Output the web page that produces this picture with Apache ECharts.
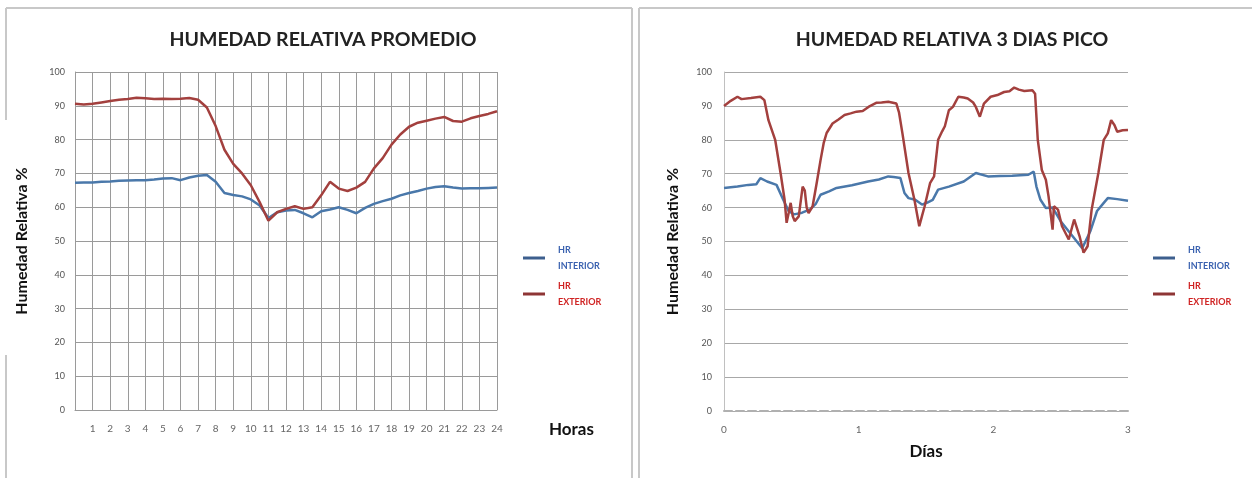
<!DOCTYPE html>
<html>
<head>
<meta charset="utf-8">
<script src="https://cdn.jsdelivr.net/npm/echarts@6/dist/echarts.min.js"></script>
<style>
  body { margin: 0; background: #fff; }
  #main { width: 1252px; height: 478px; }
</style>
</head>
<body>
<div id="main"></div>
<script type="text/javascript">
    // datos
    var horas = [0, 0.5, 1, 1.5, 2, 2.5, 3, 3.5, 4, 4.5, 5, 5.5, 6, 6.5, 7, 7.5, 8, 8.5, 9, 9.5, 10, 10.5, 11, 11.5, 12,
                 12.5, 13, 13.5, 14, 14.5, 15, 15.5, 16, 16.5, 17, 17.5, 18, 18.5, 19, 19.5, 20, 20.5, 21, 21.5, 22, 22.5, 23, 23.5, 24];
    var hrInteriorProm = [67.2, 67.3, 67.3, 67.5, 67.6, 67.8, 67.9, 68.0, 68.0, 68.2, 68.5, 68.6, 68.0, 68.8, 69.3, 69.5, 67.5, 64.2, 63.6, 63.2, 62.3, 60.5, 56.8, 58.5, 59.0,
                          59.2, 58.2, 57.0, 58.8, 59.3, 60.0, 59.2, 58.2, 59.8, 61.0, 61.8, 62.5, 63.5, 64.2, 64.8, 65.5, 66.0, 66.2, 65.8, 65.5, 65.6, 65.6, 65.7, 65.8];
    var hrExteriorProm = [90.6, 90.4, 90.6, 91.0, 91.4, 91.8, 92.0, 92.4, 92.2, 92.0, 92.1, 92.0, 92.1, 92.3, 91.8, 89.5, 84.0, 77.0, 72.8, 70.0, 66.5, 61.5, 56.0, 58.5, 59.5,
                          60.3, 59.5, 60.0, 63.5, 67.5, 65.5, 64.8, 65.8, 67.5, 71.5, 74.5, 78.5, 81.5, 83.8, 85.0, 85.6, 86.2, 86.7, 85.5, 85.3, 86.3, 87.0, 87.6, 88.4];

    var diasInt = [0, 0.1, 0.18, 0.24, 0.27, 0.32, 0.39, 0.44, 0.48, 0.52, 0.58, 0.64, 0.68, 0.717, 0.78, 0.836, 0.95, 1.07, 1.15, 1.22,
                   1.26, 1.31, 1.34, 1.37, 1.42, 1.47, 1.51, 1.55, 1.59, 1.67, 1.78, 1.87, 1.96, 2.05, 2.14, 2.26, 2.3, 2.32, 2.35, 2.39,
                   2.44, 2.5, 2.58, 2.66, 2.72, 2.77, 2.82, 2.85, 2.92, 3.0];
    var hrInteriorPico = [65.8, 66.2, 66.7, 66.9, 68.7, 67.7, 66.7, 62.3, 59.0, 58.0, 58.5, 59.5, 61.0, 63.8, 64.8, 65.8, 66.6, 67.7, 68.3, 69.2,
                          69.0, 68.7, 64.3, 62.8, 62.3, 60.9, 61.5, 62.3, 65.3, 66.2, 67.7, 70.2, 69.2, 69.3, 69.4, 69.7, 70.6, 66.2, 62.3, 59.9,
                          60.0, 56.0, 52.0, 48.0, 53.0, 59.0, 61.4, 62.8, 62.5, 62.0];
    var diasExt = [0, 0.05, 0.1, 0.13, 0.2, 0.27, 0.3, 0.33, 0.38, 0.42, 0.45, 0.465, 0.48, 0.495, 0.51, 0.525, 0.555, 0.584, 0.6, 0.614,
                   0.628, 0.645, 0.658, 0.688, 0.717, 0.74, 0.762, 0.806, 0.85, 0.895, 0.94, 0.984, 1.03, 1.073, 1.13, 1.17, 1.22, 1.28, 1.3, 1.325,
                   1.37, 1.414, 1.45, 1.47, 1.49, 1.53, 1.56, 1.59, 1.62, 1.64, 1.67, 1.7, 1.74, 1.78, 1.81, 1.85, 1.87, 1.9, 1.93, 1.98,
                   2.03, 2.08, 2.12, 2.155, 2.19, 2.23, 2.29, 2.31, 2.33, 2.36, 2.39, 2.41, 2.44, 2.45, 2.48, 2.51, 2.56, 2.6, 2.64, 2.67,
                   2.7, 2.73, 2.78, 2.82, 2.85, 2.875, 2.9, 2.92, 2.96, 3.0];
    var hrExteriorPico = [90.0, 91.5, 92.7, 92.0, 92.3, 92.7, 91.7, 85.8, 80.0, 70.2, 62.3, 55.5, 58.4, 61.4, 57.5, 56.0, 57.4, 66.2, 65.0, 60.0,
                          58.4, 59.5, 60.4, 67.2, 74.0, 79.0, 82.0, 84.8, 86.0, 87.3, 87.8, 88.3, 88.5, 89.7, 90.9, 91.0, 91.2, 90.7, 88.0, 81.9,
                          70.2, 62.3, 54.5, 57.5, 60.4, 67.2, 69.2, 80.0, 82.5, 84.0, 88.7, 89.7, 92.7, 92.5, 92.2, 91.0, 89.7, 86.8, 90.7, 92.7,
                          93.2, 94.1, 94.3, 95.4, 94.8, 94.4, 94.6, 93.6, 80.0, 71.1, 68.2, 63.3, 53.5, 60.4, 59.4, 54.5, 50.6, 56.5, 51.6, 46.7,
                          48.6, 59.4, 70.2, 80.0, 81.9, 85.8, 84.3, 82.4, 82.8, 82.9];

    var colorInt = '#4a78aa';
    var colorExt = '#a3403e';

    function pares(xs, ys) {
        var out = [];
        for (var i = 0; i < Math.min(xs.length, ys.length); i++) out.push([xs[i], ys[i]]);
        return out;
    }

    var myChart = echarts.init(document.getElementById('main'));

    var legendaTexto = { fontFamily: 'Lato', fontSize: 9, fontWeight: 'bold', lineHeight: 16, padding: [0, 0, 0, 8] };
    var tituloTexto = { fontFamily: 'Lato', fontSize: 19.5, fontWeight: 'bold', color: '#222' };

    option = {
        backgroundColor: '#fff',
        animation: false,
        title: [
            { text: 'HUMEDAD RELATIVA PROMEDIO', left: 318, top: 25, textAlign: 'center', textStyle: tituloTexto },
            { text: 'HUMEDAD RELATIVA 3 DIAS PICO', left: 947, top: 25, textAlign: 'center', textStyle: tituloTexto }
        ],
        legend: [
            { orient: 'vertical', left: 518, top: 237, itemWidth: 22, itemHeight: 3, itemGap: 4, icon: 'rect',
              data: [
                  { name: 'HR\nINTERIOR', itemStyle: { color: '#3d5f8e' }, textStyle: { color: '#3b62b0' } },
                  { name: 'HR\nEXTERIOR', itemStyle: { color: '#8e3535' }, textStyle: { color: '#d02424' } }
              ],
              textStyle: legendaTexto },
            { orient: 'vertical', left: 1148, top: 237, itemWidth: 22, itemHeight: 3, itemGap: 4, icon: 'rect',
              data: [
                  { name: 'HR\nINTERIOR\u200b', itemStyle: { color: '#3d5f8e' }, textStyle: { color: '#3b62b0' } },
                  { name: 'HR\nEXTERIOR\u200b', itemStyle: { color: '#8e3535' }, textStyle: { color: '#d02424' } }
              ],
              textStyle: legendaTexto }
        ],
        grid: [
            { left: 75, top: 72, width: 422, height: 338 },
            { left: 724, top: 72, width: 404, height: 339 }
        ],
        xAxis: [
            { gridIndex: 0, type: 'value', min: 0, max: 24, interval: 1,
              name: 'Horas', nameLocation: 'end', nameGap: 52,
              nameTextStyle: { fontFamily: 'Lato', fontSize: 17, fontWeight: 'bold', color: '#111', verticalAlign: 'top', padding: [11, 0, 0, 0] },
              axisLine: { lineStyle: { color: '#9a9a9a' } },
              axisTick: { show: false },
              axisLabel: { margin: 14, fontFamily: 'Lato', fontSize: 10, color: '#666',
                           formatter: function (v) { return v === 0 ? '' : v; } },
              splitLine: { show: true, lineStyle: { color: '#9a9a9a', width: 1 } } },
            { gridIndex: 1, type: 'value', min: 0, max: 3, interval: 1,
              name: 'Días', nameLocation: 'middle', nameGap: 32,
              nameTextStyle: { fontFamily: 'Lato', fontSize: 17, fontWeight: 'bold', color: '#111' },
              axisLine: { lineStyle: { color: '#b0b0b0', type: 'dashed', width: 2 } },
              axisTick: { show: false },
              axisLabel: { margin: 14, fontFamily: 'Lato', fontSize: 10, color: '#666' },
              splitLine: { show: false } }
        ],
        yAxis: [
            { gridIndex: 0, type: 'value', min: 0, max: 100, interval: 10,
              name: 'Humedad Relativa %', nameLocation: 'middle', nameGap: 45,
              nameTextStyle: { fontFamily: 'Lato', fontSize: 16, fontWeight: 'bold', color: '#111' },
              axisLine: { show: true, lineStyle: { color: '#9a9a9a' } },
              axisTick: { show: false },
              axisLabel: { margin: 10, fontFamily: 'Lato', fontSize: 9, color: '#555' },
              splitLine: { lineStyle: { color: '#9a9a9a', width: 1 } } },
            { gridIndex: 1, type: 'value', min: 0, max: 100, interval: 10,
              name: 'Humedad Relativa %', nameLocation: 'middle', nameGap: 43,
              nameTextStyle: { fontFamily: 'Lato', fontSize: 16, fontWeight: 'bold', color: '#111' },
              axisLine: { show: true, lineStyle: { color: '#c0c0c0' } },
              axisTick: { show: false },
              axisLabel: { margin: 12, fontFamily: 'Lato', fontSize: 9, color: '#555' },
              splitLine: { lineStyle: { color: '#a8a8a8', width: 1 } } }
        ],
        series: [
            { name: 'HR\nINTERIOR', type: 'line', xAxisIndex: 0, yAxisIndex: 0, showSymbol: false,
              lineStyle: { color: colorInt, width: 2.5 }, itemStyle: { color: colorInt },
              data: pares(horas, hrInteriorProm) },
            { name: 'HR\nEXTERIOR', type: 'line', xAxisIndex: 0, yAxisIndex: 0, showSymbol: false,
              lineStyle: { color: colorExt, width: 2.5 }, itemStyle: { color: colorExt },
              data: pares(horas, hrExteriorProm) },
            { name: 'HR\nINTERIOR\u200b', type: 'line', xAxisIndex: 1, yAxisIndex: 1, showSymbol: false,
              lineStyle: { color: colorInt, width: 2.5 }, itemStyle: { color: colorInt },
              data: pares(diasInt, hrInteriorPico) },
            { name: 'HR\nEXTERIOR\u200b', type: 'line', xAxisIndex: 1, yAxisIndex: 1, showSymbol: false,
              lineStyle: { color: colorExt, width: 2.5 }, itemStyle: { color: colorExt },
              data: pares(diasExt, hrExteriorPico) }
        ],
        graphic: [
            { type: 'line', shape: { x1: 6, y1: 8, x2: 632, y2: 8 }, style: { stroke: '#c8c8c8', lineWidth: 2 } },
            { type: 'line', shape: { x1: 6, y1: 8, x2: 6, y2: 120 }, style: { stroke: '#c8c8c8', lineWidth: 2 } },
            { type: 'line', shape: { x1: 6, y1: 355, x2: 6, y2: 478 }, style: { stroke: '#c8c8c8', lineWidth: 2 } },
            { type: 'line', shape: { x1: 632, y1: 8, x2: 632, y2: 478 }, style: { stroke: '#c8c8c8', lineWidth: 2 } },
            { type: 'line', shape: { x1: 639, y1: 8, x2: 1252, y2: 8 }, style: { stroke: '#c8c8c8', lineWidth: 2 } },
            { type: 'line', shape: { x1: 639, y1: 8, x2: 639, y2: 478 }, style: { stroke: '#c8c8c8', lineWidth: 2 } }
        ]
    };

    myChart.setOption(option);
</script>
</body>
</html>
